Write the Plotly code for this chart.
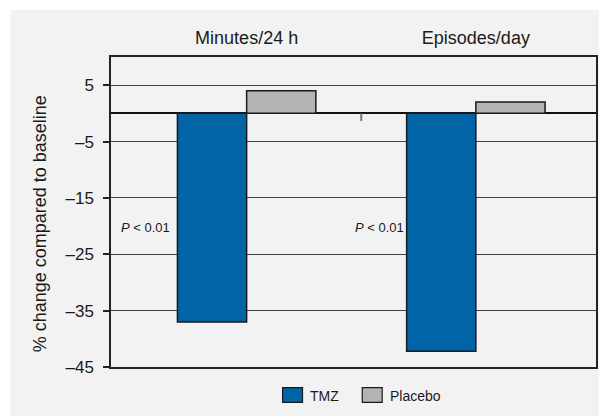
import plotly.graph_objects as go

# ---- data ----
categories = ["Minutes/24 h", "Episodes/day"]
tmz_values = [-37.0, -42.2]
placebo_values = [4.0, 2.0]
series_names = ["TMZ", "Placebo"]
y_tick_values = [5, -5, -15, -25, -35, -45]
y_tick_labels = ["5", "–5", "–15", "–25", "–35", "–45"]
p_labels = ["<i>P</i> < 0.01", "<i>P</i> < 0.01"]
p_label_y = [-20.3, -20.3]
y_title = "% change compared to baseline"

# ---- style ----
FONT = "Liberation Sans, Arial, Helvetica, sans-serif"
BG = "#f2f2f2"
BLUE = "#0064a7"
GRAY = "#b3b3b3"
EDGE = "#1a1a1a"

OFF = 8  # browser body margin
WIN_W, WIN_H = 607, 416
W, H = WIN_W - OFF, WIN_H - OFF
# plot area in screen px
L, R, T, B = 111, 598, 57, 367
BAR_W = 0.302

xpos = list(range(len(categories)))

fig = go.Figure()
fig.add_trace(go.Bar(x=xpos, y=tmz_values, name=series_names[0], width=BAR_W, offset=-BAR_W,
                     marker=dict(color=BLUE, line=dict(color=EDGE, width=1.5)), showlegend=False))
fig.add_trace(go.Bar(x=xpos, y=placebo_values, name=series_names[1], width=BAR_W, offset=0,
                     marker=dict(color=GRAY, line=dict(color=EDGE, width=1.5)), showlegend=False))

def px_to_paper_x(px):
    return (px - L) / (R - L)

def px_to_paper_y(py):
    return (B - py) / (B - T)

shapes = []
# grey panel background
shapes.append(dict(type="rect", xref="paper", yref="paper",
                   x0=px_to_paper_x(10), x1=px_to_paper_x(WIN_W + 5),
                   y0=px_to_paper_y(WIN_H + 5), y1=px_to_paper_y(10),
                   fillcolor=BG, line=dict(width=0), layer="below"))
# category separator tick on the zero line
for i in range(len(categories) - 1):
    mid = (xpos[i] + xpos[i + 1]) / 2
    shapes.append(dict(type="line", xref="x", yref="y", x0=mid, x1=mid, y0=0, y1=-1.35,
                       line=dict(color="#777777", width=2)))

# manual legend
legend_items = [(series_names[0], BLUE, 283.3), (series_names[1], GRAY, 363.3)]
annotations = []
for name, col, x0 in legend_items:
    shapes.append(dict(type="rect", xref="paper", yref="paper",
                       x0=px_to_paper_x(x0), x1=px_to_paper_x(x0 + 20),
                       y0=px_to_paper_y(402.3), y1=px_to_paper_y(387.7),
                       fillcolor=col, line=dict(color=EDGE, width=1.2)))
    annotations.append(dict(xref="paper", yref="paper", x=px_to_paper_x(x0 + 26), y=px_to_paper_y(395.5),
                            text=name, showarrow=False, xanchor="left", yanchor="middle",
                            font=dict(family=FONT, size=14, color="#1a1a1a")))

# P-value labels
p_x_px = [119, 354]
for i, t in enumerate(p_labels):
    annotations.append(dict(xref="paper", yref="y", x=px_to_paper_x(p_x_px[i]), y=p_label_y[i],
                            text=t, showarrow=False, xanchor="left", yanchor="middle",
                            font=dict(family=FONT, size=13, color="#1a1a1a")))

# y axis title
annotations.append(dict(xref="paper", yref="paper", x=px_to_paper_x(40), y=px_to_paper_y(224),
                        text=y_title, textangle=-90, showarrow=False,
                        xanchor="center", yanchor="middle",
                        font=dict(family=FONT, size=18, color="#1a1a1a")))

xr0 = (L - 247.2) / 230.15
xr1 = (R - 247.2) / 230.15

fig.update_layout(
    width=W, height=H,
    margin=dict(l=L - OFF, r=WIN_W - R, t=T - OFF, b=WIN_H - B, pad=0),
    paper_bgcolor="white",
    plot_bgcolor=BG,
    font=dict(family=FONT, color="#1a1a1a"),
    barmode="group",
    shapes=shapes,
    annotations=annotations,
    xaxis=dict(range=[xr0, xr1], side="top", tickmode="array", tickvals=xpos, ticktext=categories,
               ticks="", showgrid=False, zeroline=False,
               showline=True, mirror=True, linecolor="#222222", linewidth=1.5,
               tickfont=dict(family=FONT, size=18, color="#1a1a1a"), ticklabelstandoff=4),
    yaxis=dict(range=[-45, 10], tickmode="array", tickvals=y_tick_values, ticktext=y_tick_labels,
               ticks="outside", ticklen=6, tickcolor="#222222", tickwidth=1.5,
               showgrid=True, gridcolor="#444444", gridwidth=1,
               zeroline=True, zerolinecolor="#111111", zerolinewidth=1.5,
               showline=True, mirror=True, linecolor="#222222", linewidth=1.5,
               tickfont=dict(family=FONT, size=17, color="#1a1a1a"), ticklabelstandoff=6),
)

fig.write_html("out.html")
